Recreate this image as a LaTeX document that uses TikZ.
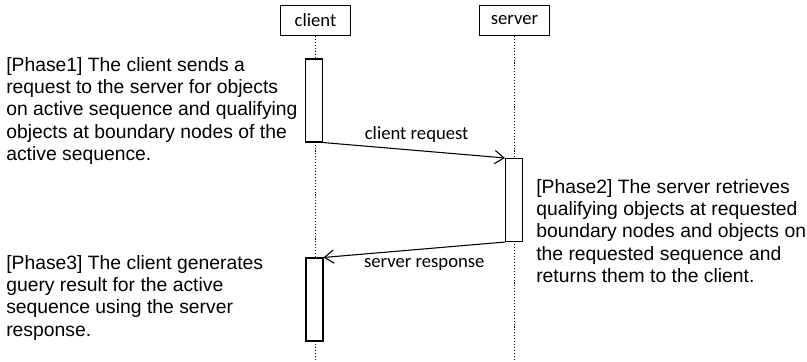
\documentclass[tikz,border=0pt]{standalone}
\usepackage{fontspec}
\setmainfont{Liberation Sans}
\newfontfamily\lblfont{Carlito}
\usetikzlibrary{arrows.meta, positioning}

\begin{document}
\begin{tikzpicture}[
  x=0.75pt, y=-0.75pt,
  obj/.style={draw, line width=0.8pt, minimum width=52pt,
              minimum height=22.5pt, inner sep=0pt,
              font=\lblfont\fontsize{14}{16}\selectfont},
  act/.style={draw, fill=white, line width=0.8pt, minimum width=12.75pt,
              minimum height=62.25pt, inner sep=0pt},
  life/.style={line width=0.7pt, dash pattern=on 0.8pt off 1.4pt},
  msg/.style={-{Straight Barb[length=7pt, width=10pt]}, line width=0.8pt},
  msglbl/.style={font=\lblfont\fontsize{14}{16}\selectfont, inner sep=0pt},
  phase/.style={align=left, inner sep=0pt, anchor=north west,
                font=\fontsize{14.5}{16.7}\selectfont},
]
\path[use as bounding box, fill=white] (0,0) rectangle (807,361);

% objects and lifelines
\node[obj] (client) at (315.5,20.5) {client};
\node[obj] (server) at (514.5,20.5) {server};
\coordinate (clientend) at (315.5,361);
\coordinate (serverend) at (514.5,361);
\draw[life] (client) -- (clientend);
\draw[life] (server) -- (serverend);

% activations
\node[act] (creq) at (314,100.5) {};
\node[act] (sproc) at (514,200) {};
\node[act] (cres) at (314.5,299.5) {};

% messages
\draw[msg] (creq.south east) --
  node[msglbl, yshift=12pt, xshift=2pt] (reqlbl) {client request} (sproc.north west);
\draw[msg] (sproc.south west) --
  node[msglbl, yshift=-11pt, xshift=7.5pt] (reslbl) {server response} (cres.north east);

% phase notes
\node[phase] (phase1) at (6,57)
  {[Phase1] The client sends a\\request to the server for objects\\on active sequence and qualifying\\objects at boundary nodes of the\\active sequence.};
\node[phase] (phase2) at (536,179)
  {[Phase2] The server retrieves\\qualifying objects at requested\\boundary nodes and objects on\\the requested sequence and\\returns them to the client.};
\node[phase] (phase3) at (6,255)
  {[Phase3] The client generates\\guery result for the active\\sequence using the server\\response.};
\end{tikzpicture}
\end{document}
